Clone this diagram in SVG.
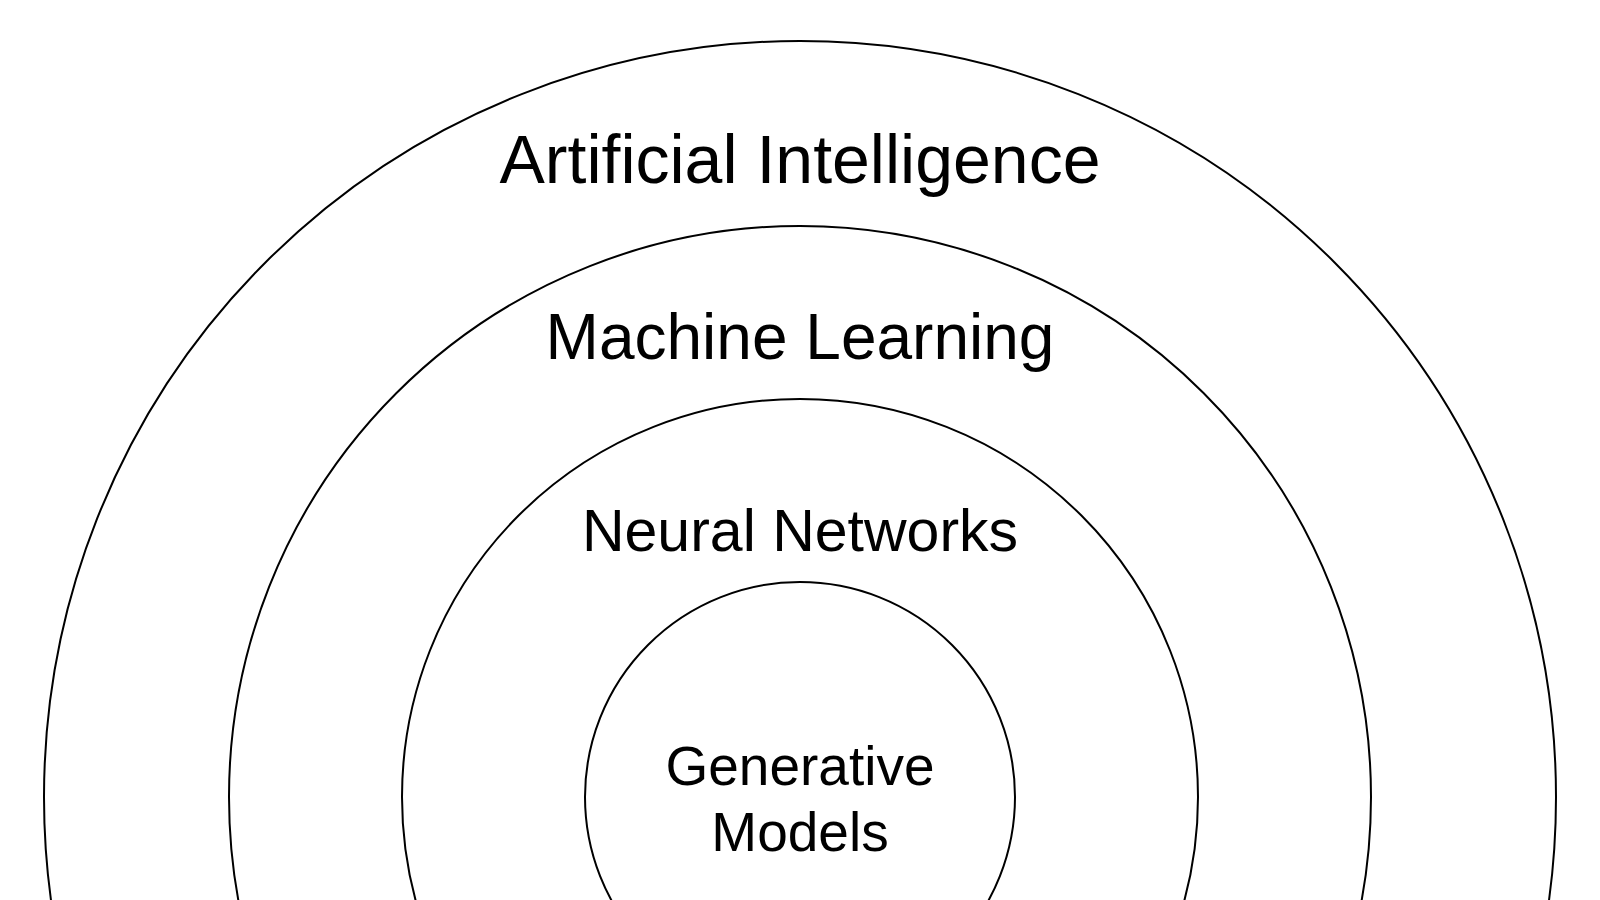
<svg xmlns="http://www.w3.org/2000/svg" width="1600" height="900" viewBox="0 0 1600 900">
<style>
.ring{fill:none;stroke:#000;stroke-width:2}
.lbl{font-family:"Liberation Sans",Arial,sans-serif;fill:#000;text-anchor:middle}
</style>
<rect width="1600" height="900" fill="#fff"/>
<g id="ai"><circle class="ring" cx="800" cy="797" r="756"/><text class="lbl" x="800" y="183" font-size="68">Artificial Intelligence</text></g>
<g id="ml"><circle class="ring" cx="800" cy="797" r="571"/><text class="lbl" x="800" y="359" font-size="64">Machine Learning</text></g>
<g id="nn"><circle class="ring" cx="800" cy="797" r="398"/><text class="lbl" x="800" y="551" font-size="59">Neural Networks</text></g>
<g id="gm"><circle class="ring" cx="800" cy="797" r="215"/><text class="lbl" x="800" y="785" font-size="55">Generative</text><text class="lbl" x="800" y="851" font-size="55">Models</text></g>
<g id="connectors"/>
</svg>
